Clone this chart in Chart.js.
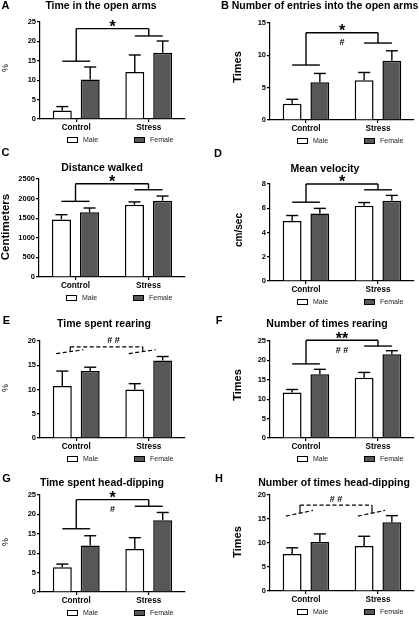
<!DOCTYPE html>
<html>
<head>
<meta charset="utf-8">
<title>Anxiety-like behaviour panels</title>
<script src="https://cdn.jsdelivr.net/npm/chart.js@4.4.1/dist/chart.umd.min.js"></script>
<style>
  html, body { margin: 0; padding: 0; background: #fff; }
  #fig { position: relative; width: 419px; height: 617px; overflow: hidden; }
  #fig canvas { position: absolute; }
</style>
</head>
<body>
<div id="fig"></div>
<script>
// groups on the x axis and the two series
const groups = ['Control', 'Stress'];
const sexes = ['Male', 'Female'];

// A - time in the open arms (%)
const openTimeMale = [2.2, 12.1];
const openTimeFemale = [10.2, 17.1];
const openTimeMaleSem = [1.0, 4.4];
const openTimeFemaleSem = [3.2, 3.0];
const openTimeSig = [14.9, 21.4, 23.3];

// B - number of entries into the open arms
const entriesMale = [2.5, 6.15];
const entriesFemale = [5.85, 9.15];
const entriesMaleSem = [0.7, 1.2];
const entriesFemaleSem = [1.35, 1.55];
const entriesSig = [8.5, 11.9, 13.5];

// C - distance walked (cm)
const distanceMale = [1470, 1845];
const distanceFemale = [1650, 1945];
const distanceMaleSem = [120, 70];
const distanceFemaleSem = [110, 120];
const distanceSig = [1930, 2225, 2380];

// D - mean velocity (cm/sec)
const velocityMale = [4.95, 6.2];
const velocityFemale = [5.57, 6.62];
const velocityMaleSem = [0.45, 0.27];
const velocityFemaleSem = [0.42, 0.44];
const velocitySig = [6.5, 7.52, 8.0];

// E - time spent rearing (%)
const rearTimeMale = [10.7, 10.0];
const rearTimeFemale = [13.8, 16.0];
const rearTimeMaleSem = [3.1, 1.2];
const rearTimeFemaleSem = [0.8, 0.8];
const rearTimeSig = [17.4, 18.2, 18.8];

// F - number of times rearing
const rearCountMale = [11.7, 15.5];
const rearCountFemale = [16.4, 21.6];
const rearCountMaleSem = [0.8, 1.4];
const rearCountFemaleSem = [1.3, 0.9];
const rearCountSig = [19.1, 23.7, 25.2];

// G - time spent head-dipping (%)
const dipTimeMale = [6.4, 11.1];
const dipTimeFemale = [12.0, 18.5];
const dipTimeMaleSem = [0.8, 2.9];
const dipTimeFemaleSem = [2.5, 2.0];
const dipTimeSig = [16.3, 22.1, 23.8];

// H - number of times head-dipping
const dipCountMale = [7.7, 9.4];
const dipCountFemale = [10.2, 14.3];
const dipCountMaleSem = [1.3, 2.0];
const dipCountFemaleSem = [1.7, 1.4];
const dipCountSig = [15.6, 16.8, 17.9];

const FONT = "'Liberation Sans', Arial, Helvetica, sans-serif";
const AXIS_W = 22;   // room for y tick labels
const AXIS_H = 14;   // room for group labels

// box = canvas [left, top, width, height], plot = [x0, yTop, x1, yBottom] in page px
const panels = [
  { letter: 'A', title: 'Time in the open arms', yTitle: '%', yFont: '9px', max: 25, step: 5,
    male: openTimeMale, female: openTimeFemale, maleSem: openTimeMaleSem, femaleSem: openTimeFemaleSem,
    sig: openTimeSig, above: '*',
    box: [0, 0, 210, 150], plot: [40, 22, 185, 119], letterAt: [5.5, 6], titleAt: [101, 6], yTitleAt: [6, 68] },
  { letter: 'B', title: 'Number of entries into the open arms', yTitle: 'Times', yFont: 'bold 11px', max: 15, step: 5,
    male: entriesMale, female: entriesFemale, maleSem: entriesMaleSem, femaleSem: entriesFemaleSem,
    sig: entriesSig, above: '*', below: '#',
    box: [209, 0, 210, 150], plot: [270, 23, 414, 120], letterAt: [225, 6], titleAt: [325, 6], yTitleAt: [238, 67] },
  { letter: 'C', title: 'Distance walked', yTitle: 'Centimeters', yFont: 'bold 11.5px', max: 2500, step: 500,
    male: distanceMale, female: distanceFemale, maleSem: distanceMaleSem, femaleSem: distanceFemaleSem,
    sig: distanceSig, above: '*',
    box: [0, 145, 210, 160], plot: [39, 179, 185, 277], letterAt: [5.5, 153], titleAt: [102, 168], yTitleAt: [6, 227] },
  { letter: 'D', title: 'Mean velocity', yTitle: 'cm/sec', yFont: 'bold 10px', max: 8, step: 2,
    male: velocityMale, female: velocityFemale, maleSem: velocityMaleSem, femaleSem: velocityFemaleSem,
    sig: velocitySig, above: '*',
    box: [209, 145, 210, 160], plot: [270, 184, 414, 281], letterAt: [218, 154], titleAt: [325, 169], yTitleAt: [239, 230] },
  { letter: 'E', title: 'Time spent rearing', yTitle: '%', yFont: '9px', max: 20, step: 5,
    male: rearTimeMale, female: rearTimeFemale, maleSem: rearTimeMaleSem, femaleSem: rearTimeFemaleSem,
    sig: rearTimeSig, dashed: true, above: '# #', markDx: 7,
    box: [0, 305, 210, 160], plot: [40, 341, 185, 438], letterAt: [6.5, 321], titleAt: [104, 324], yTitleAt: [6, 388] },
  { letter: 'F', title: 'Number of times rearing', yTitle: 'Times', yFont: 'bold 11px', max: 25, step: 5,
    male: rearCountMale, female: rearCountFemale, maleSem: rearCountMaleSem, femaleSem: rearCountFemaleSem,
    sig: rearCountSig, above: '**', below: '# #',
    box: [209, 305, 210, 160], plot: [270, 341, 414, 438], letterAt: [219, 321], titleAt: [327, 324], yTitleAt: [238, 385] },
  { letter: 'G', title: 'Time spent head-dipping', yTitle: '%', yFont: '9px', max: 25, step: 5,
    male: dipTimeMale, female: dipTimeFemale, maleSem: dipTimeMaleSem, femaleSem: dipTimeFemaleSem,
    sig: dipTimeSig, above: '*', below: '#',
    box: [0, 462, 210, 155], plot: [40, 495, 185, 592], letterAt: [6.5, 479], titleAt: [102, 483], yTitleAt: [6, 542] },
  { letter: 'H', title: 'Number of times head-dipping', yTitle: 'Times', yFont: 'bold 11px', max: 20, step: 5,
    male: dipCountMale, female: dipCountFemale, maleSem: dipCountMaleSem, femaleSem: dipCountFemaleSem,
    sig: dipCountSig, dashed: true, above: '# #',
    box: [209, 462, 210, 155], plot: [270, 495, 414, 591], letterAt: [219, 479], titleAt: [334, 483], yTitleAt: [238, 542] }
];

function line(ctx, x1, y1, x2, y2) {
  ctx.beginPath();
  ctx.moveTo(x1, y1);
  ctx.lineTo(x2, y2);
  ctx.stroke();
}

function drawMark(ctx, txt, x, y) {
  ctx.textAlign = 'center';
  if (txt.includes('*')) {
    ctx.font = 'bold 16px ' + FONT;
    ctx.textBaseline = 'alphabetic';
    ctx.fillText(txt, x, y + 9.3);  // asterisk sits high in the em box
  } else {
    ctx.font = 'bold 9px ' + FONT;
    ctx.textBaseline = 'middle';
    ctx.fillText(txt, x, y);
  }
}

// error bars, brackets, titles and legend for one panel
function decor(p) {
  return {
    id: 'decor',
    afterDatasetsDraw(chart) {
      const ctx = chart.ctx;
      const y = chart.scales.y;
      const males = chart.getDatasetMeta(0).data;
      const females = chart.getDatasetMeta(1).data;
      const ox = p.box[0], oy = p.box[1];
      ctx.save();
      ctx.strokeStyle = '#000';
      ctx.fillStyle = '#000';
      ctx.lineWidth = 1.4;

      // upper error bars (mean + SEM)
      [[males, p.male, p.maleSem], [females, p.female, p.femaleSem]].forEach(([bars, mean, sem]) => {
        bars.forEach((bar, i) => {
          const top = y.getPixelForValue(mean[i] + sem[i]);
          line(ctx, bar.x, bar.y, bar.x, top);
          line(ctx, bar.x - 6, top, bar.x + 6, top);
        });
      });

      // significance brackets
      const mid = [0, 1].map(i => (males[i].x + females[i].x) / 2);
      let topY, markX;
      if (!p.dashed) {
        const [c, s, t] = p.sig.map(v => y.getPixelForValue(v));
        line(ctx, males[0].x, c, females[0].x, c);
        line(ctx, mid[0], c, mid[0], t);
        line(ctx, mid[0], t, mid[1], t);
        line(ctx, mid[1], t, mid[1], s);
        line(ctx, males[1].x, s, females[1].x, s);
        topY = t;
        markX = (mid[0] + mid[1]) / 2;
      } else {
        const [lo, hi, top] = p.sig;
        topY = y.getPixelForValue(top);
        const knee = mid.map(m => m - 6);
        ctx.lineWidth = 1.2;
        ctx.setLineDash([4, 2.5]);
        knee.forEach(k => line(ctx, k - 14, y.getPixelForValue(lo), k + 13, y.getPixelForValue(hi)));
        line(ctx, knee[0], topY, knee[1], topY);
        ctx.setLineDash([]);
        const kneeY = y.getPixelForValue(lo + (hi - lo) * 14 / 27);
        knee.forEach(k => line(ctx, k, kneeY, k, topY));
        markX = (knee[0] + knee[1]) / 2;
      }
      markX += p.markDx || 0;
      if (p.above) drawMark(ctx, p.above, markX, topY - 6);
      if (p.below) drawMark(ctx, p.below, markX, topY + 10);

      // panel letter, title, y title
      ctx.textAlign = 'center';
      ctx.textBaseline = 'middle';
      ctx.font = 'bold 11px ' + FONT;
      ctx.fillText(p.letter, p.letterAt[0] - ox, p.letterAt[1] - oy);
      ctx.font = 'bold 10.5px ' + FONT;
      ctx.fillText(p.title, p.titleAt[0] - ox, p.titleAt[1] - oy);
      ctx.save();
      ctx.translate(p.yTitleAt[0] - ox, p.yTitleAt[1] - oy);
      ctx.rotate(-Math.PI / 2);
      ctx.font = p.yFont + ' ' + FONT;
      ctx.fillText(p.yTitle, 0, 0);
      ctx.restore();

      // legend under the axis
      const ly = chart.chartArea.bottom + 21;
      const left = chart.chartArea.left;
      chart.data.datasets.forEach((ds, i) => {
        const bx = left + (i ? 94 : 27);
        ctx.fillStyle = ds.backgroundColor;
        ctx.fillRect(bx, ly - 3, 11, 6);
        ctx.strokeStyle = '#000';
        ctx.lineWidth = 1;
        ctx.strokeRect(bx + 0.5, ly - 2.5, 10, 5);
        ctx.fillStyle = '#222';
        ctx.font = '7px ' + FONT;
        ctx.textAlign = 'left';
        ctx.fillText(ds.label, bx + 16, ly + 0.5);
      });
      ctx.restore();
    }
  };
}

const fig = document.getElementById('fig');

panels.forEach(p => {
  const cv = document.createElement('canvas');
  cv.width = p.box[2];
  cv.height = p.box[3];
  cv.style.left = p.box[0] + 'px';
  cv.style.top = p.box[1] + 'px';
  cv.style.width = p.box[2] + 'px';
  cv.style.height = p.box[3] + 'px';
  fig.appendChild(cv);

  new Chart(cv.getContext('2d'), {
    type: 'bar',
    data: {
      labels: groups,
      datasets: [
        { label: sexes[0], data: p.male, backgroundColor: '#ffffff', borderColor: '#000', borderWidth: 1.5,
          barPercentage: 0.68, categoryPercentage: 0.77 },
        { label: sexes[1], data: p.female, backgroundColor: '#575757', borderColor: '#000', borderWidth: 1.5,
          barPercentage: 0.68, categoryPercentage: 0.77 }
      ]
    },
    options: {
      responsive: false,
      animation: false,
      devicePixelRatio: 1,
      layout: {
        padding: {
          left: p.plot[0] - p.box[0] - AXIS_W,
          right: p.box[0] + p.box[2] - p.plot[2],
          top: p.plot[1] - p.box[1],
          bottom: p.box[1] + p.box[3] - p.plot[3] - AXIS_H
        }
      },
      plugins: {
        legend: { display: false },
        tooltip: { enabled: false }
      },
      scales: {
        x: {
          ticks: { color: '#000', font: { family: FONT, size: 8.2, weight: 'bold' }, padding: 1 },
          grid: { drawOnChartArea: false, offset: false, tickLength: 3, color: '#000', lineWidth: 1.2 },
          border: { display: true, color: '#000', width: 1.2 },
          afterFit(s) { s.height = AXIS_H; }
        },
        y: {
          min: 0,
          max: p.max,
          ticks: {
            stepSize: p.step, color: '#000', font: { family: FONT, size: 7.5, weight: 'bold' }, padding: 1,
            callback: v => String(v)   // no thousands separator
          },
          grid: { drawOnChartArea: false, tickLength: 3, color: '#000', lineWidth: 1.2 },
          border: { display: true, color: '#000', width: 1.2 },
          afterFit(s) { s.width = AXIS_W; }
        }
      }
    },
    plugins: [decor(p)]
  });
});
</script>
</body>
</html>
